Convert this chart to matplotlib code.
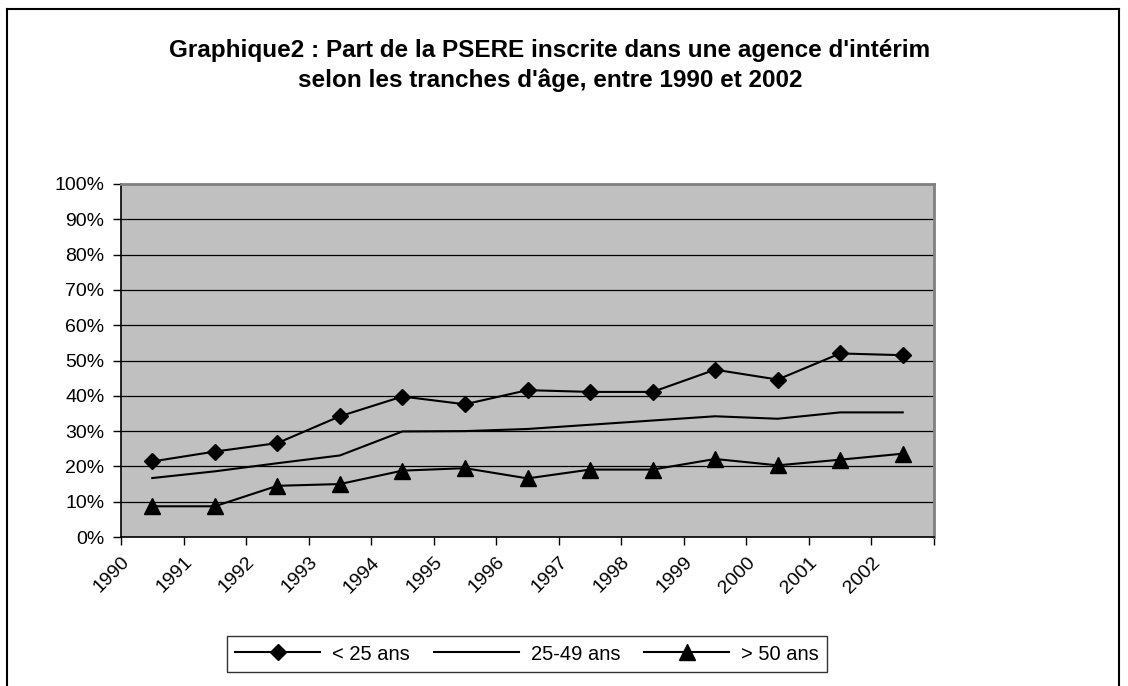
import numpy as np
import matplotlib.pyplot as plt
import matplotlib.transforms as mtransforms
from matplotlib.lines import Line2D

plt.rcParams['font.family'] = ['Liberation Sans', 'DejaVu Sans']

# Data (share in %)
years = ['1990', '1991', '1992', '1993', '1994', '1995', '1996',
         '1997', '1998', '1999', '2000', '2001', '2002']
moins_25 = [21.4, 24.2, 26.6, 34.2, 39.8, 37.6, 41.6, 41.1, 41.1, 47.4, 44.6, 52.0, 51.5]
de_25_49 = [16.7, 18.6, 20.9, 23.1, 29.9, 30.0, 30.6, 31.8, 33.0, 34.2, 33.5, 35.3, 35.3]
plus_50 = [8.7, 8.7, 14.5, 15.0, 18.8, 19.5, 16.6, 19.1, 19.1, 22.1, 20.3, 21.9, 23.6]

fig = plt.figure(figsize=(11.28, 6.86), dpi=100)
ax = fig.add_axes([121 / 1128, 1 - 537 / 686, (934 - 121) / 1128, (537 - 184) / 686])
ax.set_facecolor('#C0C0C0')

x = np.arange(len(years)) + 0.5
ax.plot(x, moins_25, color='black', lw=1.5, marker='D', ms=8.5, label='< 25 ans')
ax.plot(x, de_25_49, color='black', lw=1.5, label='25-49 ans')
ax.plot(x, plus_50, color='black', lw=1.5, marker='^', ms=11, label='> 50 ans')

ax.set_xlim(0, len(years))
ax.set_ylim(0, 100)
ax.set_yticks(np.arange(0, 101, 10))
ax.set_yticklabels([f'{v}%' for v in range(0, 101, 10)], fontsize=14)
ax.yaxis.grid(True, color='black', lw=0.9)
ax.set_axisbelow(True)

ax.set_xticks(np.arange(len(years) + 1))
ax.set_xticklabels(years + [''], fontsize=14, rotation=45, ha='right',
                   rotation_mode='anchor')
offset = mtransforms.ScaledTranslation(8 / 100, -4 / 100, fig.dpi_scale_trans)
for lab in ax.get_xticklabels():
    lab.set_transform(lab.get_transform() + offset)

ax.tick_params(axis='both', direction='out', length=6, width=1, colors='black', pad=6)
for side in ['left', 'bottom']:
    ax.spines[side].set_color('black')
    ax.spines[side].set_linewidth(1.2)
for side in ['top', 'right']:
    ax.spines[side].set_color('#808080')
    ax.spines[side].set_linewidth(2)

fig.text(550 / 1128, 1 - 50 / 686,
         "Graphique2 : Part de la PSERE inscrite dans une agence d'intérim",
         ha='center', va='center', fontsize=17.5, fontweight='bold')
fig.text(550 / 1128, 1 - 80 / 686,
         "selon les tranches d'âge, entre 1990 et 2002",
         ha='center', va='center', fontsize=17.5, fontweight='bold')

leg = fig.legend(loc='center', bbox_to_anchor=(527 / 1128, 1 - 654 / 686), ncol=3,
                 fontsize=14.5, frameon=True, fancybox=False, handlelength=4.2,
                 columnspacing=1.2, handletextpad=0.6, borderpad=0.4)
leg.get_frame().set_edgecolor('black')
leg.get_frame().set_linewidth(1)

# outer chart frame
fw, fh = 1128, 686
fig.add_artist(Line2D([7 / fw, 7 / fw], [0, 1 - 9 / fh], color='black', lw=1.5))
fig.add_artist(Line2D([7 / fw, 1119 / fw], [1 - 9 / fh, 1 - 9 / fh], color='black', lw=1.5))
fig.add_artist(Line2D([1119 / fw, 1119 / fw], [0, 1 - 9 / fh], color='black', lw=1.5))

fig.savefig('out.png', dpi=100)
